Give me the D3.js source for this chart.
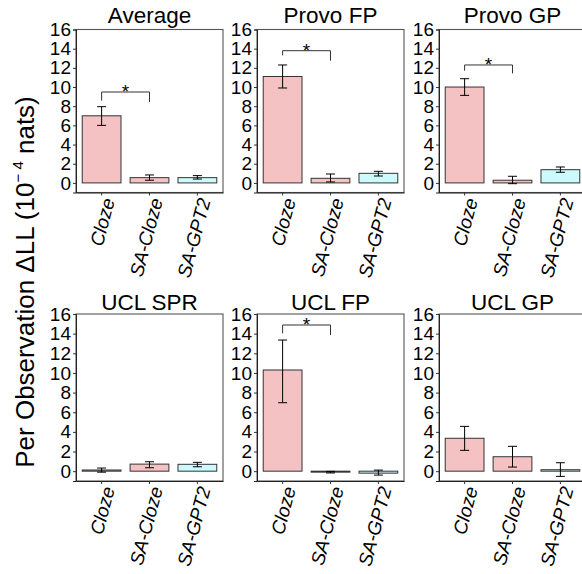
<!DOCTYPE html>
<html>
<head>
<meta charset="utf-8">
<script src="https://cdn.jsdelivr.net/npm/d3@7"></script>
<style>
  html, body { margin: 0; padding: 0; background: #fff; }
  svg { display: block; font-family: "Liberation Sans", Arial, Helvetica, sans-serif; }
</style>
</head>
<body>
<svg id="chart" width="582" height="574"></svg>
<script>
// ---- data ----
const categories = ["Cloze", "SA-Cloze", "SA-GPT2"];
const panelTitles = ["Average", "Provo FP", "Provo GP", "UCL SPR", "UCL FP", "UCL GP"];
const meanValues = [
  [7.0, 0.55, 0.55],
  [11.1, 0.48, 1.0],
  [10.0, 0.28, 1.38],
  [0.12, 0.72, 0.7],
  [10.3, -0.1, -0.2],
  [3.35, 1.47, 0.15]
];
const errLow = [
  [6.0, 0.28, 0.4],
  [9.9, 0.1, 0.72],
  [9.13, -0.08, 1.11],
  [-0.1, 0.35, 0.45],
  [6.97, -0.18, -0.4],
  [2.12, 0.42, -0.53]
];
const errHigh = [
  [7.95, 0.83, 0.76],
  [12.3, 0.93, 1.21],
  [10.87, 0.69, 1.66],
  [0.32, 0.96, 0.9],
  [13.35, -0.02, 0.11],
  [4.56, 2.53, 0.86]
];
// significance brackets: panel index, bracket level, left leg end, right leg end
const sigPanels = [0, 1, 2, 4];
const sigLevel = [9.48, 13.79, 12.3, 14.88];
const sigLeftEnd = [8.58, 13.3, 11.7, 14.03];
const sigRightEnd = [8.44, 12.75, 11.43, 13.86];
const yTicks = [0, 2, 4, 6, 8, 10, 12, 14, 16];
const barColors = ["#F4C2C2", "#F4C2C2", "#CCFAFD"];

// ---- layout ----
const svg = d3.select("#chart");
const panelW = 147;
const colX = [76, 257, 439];
const rowY = [29.5, 314];
const rowH = [163, 167];

const x = d3.scaleBand().domain(categories).range([0, panelW]).paddingInner(0.19).paddingOuter(0.13);

panelTitles.forEach((title, i) => {
  const row = Math.floor(i / 3), col = i % 3;
  const h = rowH[row];
  const g = svg.append("g").attr("transform", `translate(${colX[col]},${rowY[row]})`);
  const y = d3.scaleLinear().domain([-1, 16]).range([h, 0]);

  // bars
  g.selectAll("rect.bar").data(categories).enter().append("rect")
    .attr("class", "bar")
    .attr("x", d => x(d))
    .attr("width", x.bandwidth())
    .attr("y", (d, j) => y(Math.max(0, meanValues[i][j])))
    .attr("height", (d, j) => Math.max(0.5, Math.abs(y(meanValues[i][j]) - y(0))))
    .attr("fill", (d, j) => barColors[j])
    .attr("stroke", "#333")
    .attr("stroke-width", 1);

  // error bars
  const cap = 4.5;
  categories.forEach((c, j) => {
    const cx = x(c) + x.bandwidth() / 2;
    const eg = g.append("g").attr("stroke", "#000").attr("stroke-width", 1);
    eg.append("line").attr("x1", cx).attr("x2", cx).attr("y1", y(errLow[i][j])).attr("y2", y(errHigh[i][j]));
    eg.append("line").attr("x1", cx - cap).attr("x2", cx + cap).attr("y1", y(errLow[i][j])).attr("y2", y(errLow[i][j]));
    eg.append("line").attr("x1", cx - cap).attr("x2", cx + cap).attr("y1", y(errHigh[i][j])).attr("y2", y(errHigh[i][j]));
  });

  // significance bracket
  const k = sigPanels.indexOf(i);
  if (k >= 0) {
    const x1 = x(categories[0]) + x.bandwidth() / 2;
    const x2 = x(categories[1]) + x.bandwidth() / 2;
    g.append("path")
      .attr("d", `M${x1},${y(sigLeftEnd[k])}V${y(sigLevel[k])}H${x2}V${y(sigRightEnd[k])}`)
      .attr("fill", "none").attr("stroke", "#333").attr("stroke-width", 1);
    g.append("text").attr("x", (x1 + x2) / 2).attr("y", y(sigLevel[k]) + 6)
      .attr("text-anchor", "middle").attr("font-size", 19).text("*");
  }

  // panel border
  g.append("rect").attr("x", 0).attr("y", 0).attr("width", panelW).attr("height", h)
    .attr("fill", "none").attr("stroke", "#555").attr("stroke-width", 1.1);

  // y axis
  const ya = g.append("g").call(d3.axisLeft(y).tickValues(yTicks).tickSize(3).tickPadding(2));
  ya.select(".domain").attr("stroke", "#222");
  ya.selectAll(".tick line").attr("stroke", "#333");
  ya.selectAll("text").attr("font-size", 19).attr("fill", "#000")
    .attr("font-family", "'Liberation Sans', Arial, sans-serif");

  // x axis
  const xa = g.append("g").attr("transform", `translate(0,${h})`)
    .call(d3.axisBottom(x).tickSize(3).tickSizeOuter(0));
  xa.select(".domain").attr("stroke", "#222");
  xa.selectAll(".tick line").attr("stroke", "#333");
  xa.selectAll("text")
    .attr("font-size", 19).attr("fill", "#000").attr("font-style", "italic")
    .attr("font-family", "'Liberation Sans', Arial, sans-serif")
    .attr("text-anchor", "end")
    .attr("dy", "0.35em")
    .attr("transform", "translate(7,6) rotate(-75)")
    .attr("x", 0).attr("y", 0);

  // title
  g.append("text").attr("x", panelW / 2).attr("y", row === 0 ? -6.5 : -4.5)
    .attr("text-anchor", "middle").attr("font-size", 22.5).attr("fill", "#000").text(title);
});

// y-axis title
const yt = svg.append("text")
  .attr("transform", "translate(34,282) rotate(-90)")
  .attr("text-anchor", "middle").attr("font-size", 26).attr("fill", "#000");
yt.append("tspan").text("Per Observation \u0394LL (10");
yt.append("tspan").attr("font-size", 15).attr("dy", -11).text("\u2212 4");
yt.append("tspan").attr("dy", 11).text(" nats)");
</script>
</body>
</html>
